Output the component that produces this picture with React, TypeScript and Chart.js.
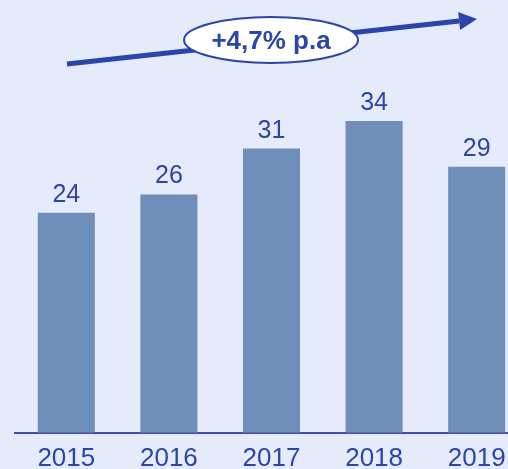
import React, { useEffect, useRef } from "react";
import { Chart, registerables } from "chart.js";

Chart.register(...registerables);

const categories = ["2015", "2016", "2017", "2018", "2019"];
const values = [24, 26, 31, 34, 29];
const growthLabel = "+4,7% p.a";

const BG = "#E5EBFB";
const BAR = "#6F8EBA";
const TEXT = "#2C45A8";
const LINE = "#2B44AA";

const decorPlugin = {
  id: "decor",
  beforeDraw(chart: any) {
    const ctx = chart.ctx;
    ctx.save();
    ctx.fillStyle = BG;
    ctx.fillRect(0, 0, chart.width, chart.height);
    ctx.restore();
  },
  afterDatasetsDraw(chart: any) {
    const ctx = chart.ctx;
    const meta = chart.getDatasetMeta(0);
    ctx.save();
    ctx.fillStyle = TEXT;
    ctx.font = "25px 'Liberation Sans', Arial, sans-serif";
    ctx.textAlign = "center";
    ctx.textBaseline = "alphabetic";
    meta.data.forEach((bar: any, i: number) => {
      ctx.fillText(String(values[i]), bar.x, bar.y - 11);
    });
    ctx.restore();

    // growth arrow
    const x0 = 67, y0 = 64;
    const tipX = 477, tipY = 19;
    const ang = Math.atan2(tipY - y0, tipX - x0);
    const headLen = 18, headHalf = 9;
    const bx = tipX - headLen * Math.cos(ang);
    const by = tipY - headLen * Math.sin(ang);
    ctx.save();
    ctx.strokeStyle = LINE;
    ctx.fillStyle = LINE;
    ctx.lineWidth = 5;
    ctx.beginPath();
    ctx.moveTo(x0, y0);
    ctx.lineTo(bx, by);
    ctx.stroke();
    ctx.beginPath();
    ctx.moveTo(tipX, tipY);
    ctx.lineTo(bx + headHalf * Math.sin(ang), by - headHalf * Math.cos(ang));
    ctx.lineTo(bx - headHalf * Math.sin(ang), by + headHalf * Math.cos(ang));
    ctx.closePath();
    ctx.fill();

    // ellipse label
    ctx.beginPath();
    ctx.ellipse(271, 40, 87, 23, 0, 0, Math.PI * 2);
    ctx.fillStyle = "#FFFFFF";
    ctx.fill();
    ctx.lineWidth = 2;
    ctx.strokeStyle = LINE;
    ctx.stroke();
    ctx.fillStyle = TEXT;
    ctx.font = "bold 26px 'Liberation Sans', Arial, sans-serif";
    ctx.textAlign = "center";
    ctx.textBaseline = "middle";
    ctx.fillText(growthLabel, 271, 42);
    ctx.restore();
  },
};

export default function App() {
  const ref = useRef<HTMLCanvasElement>(null);
  useEffect(() => {
    if (!ref.current) return;
    const chart = new Chart(ref.current, {
      type: "bar",
      data: {
        labels: categories,
        datasets: [
          {
            data: values,
            backgroundColor: BAR,
            borderWidth: 0,
            barPercentage: 0.556,
            categoryPercentage: 1,
          },
        ],
      },
      options: {
        responsive: false,
        animation: false,
        devicePixelRatio: 1,
        layout: { padding: { left: 15, right: 0, top: 66, bottom: 0 } },
        plugins: { legend: { display: false }, tooltip: { enabled: false } },
        scales: {
          x: {
            grid: { display: false, drawTicks: false },
            border: { display: true, color: "#3651B0", width: 2 },
            ticks: {
              color: TEXT,
              padding: 10,
              font: { family: "'Liberation Sans', Arial, sans-serif", size: 26 },
            },
          },
          y: { display: false, min: 0, max: 40 },
        },
      },
      plugins: [decorPlugin],
    });
    return () => chart.destroy();
  }, []);
  return (
    <div
      style={{
        position: "fixed",
        left: 0,
        top: 0,
        width: 508,
        height: 469,
        overflow: "hidden",
        background: BG,
      }}
    >
      <canvas ref={ref} width={528} height={484} style={{ display: "block" }} />
    </div>
  );
}
